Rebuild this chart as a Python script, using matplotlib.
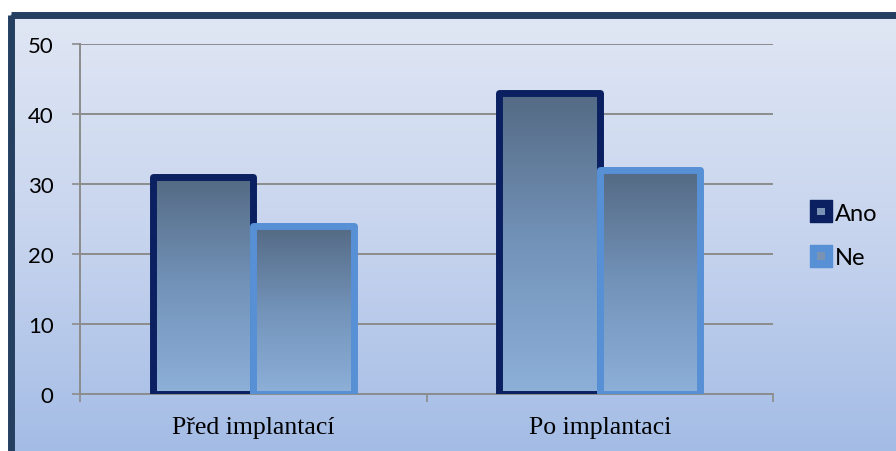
import matplotlib
matplotlib.use("Agg")
import matplotlib.pyplot as plt
import numpy as np
from matplotlib.colors import LinearSegmentedColormap
from matplotlib.patches import Rectangle, Patch
from matplotlib.legend_handler import HandlerPatch

categories = ["Před implantací", "Po implantaci"]
series_names = ["Ano", "Ne"]
ano_values = [31, 43]
ne_values = [24, 32]
y_ticks = [0, 10, 20, 30, 40, 50]

W, H, DPI = 896, 452, 100
fig = plt.figure(figsize=(W / DPI, H / DPI), dpi=DPI)
fig.patch.set_facecolor("white")

# background panel with vertical gradient and dark frame
bg = fig.add_axes([0, 0, 1, 1], zorder=0)
bg.set_xlim(0, W)
bg.set_ylim(H, 0)
bg.axis("off")
bg_cmap = LinearSegmentedColormap.from_list("bg", ["#e0e7f4", "#c7d4ee", "#a2bbe5"])
grad = np.linspace(0, 1, 256).reshape(-1, 1)
bg.imshow(grad, extent=[10, W + 10, H + 10, 15], cmap=bg_cmap, aspect="auto",
          interpolation="bicubic", zorder=0)
bg.add_patch(Rectangle((10.5, 15.5), W + 20, H + 20, facecolor="none",
                       edgecolor="#243f60", linewidth=5.0, joinstyle="round", zorder=1))

# plot area
ax = fig.add_axes([80 / W, (H - 395) / H, (773 - 80) / W, 350 / H], zorder=1)
ax.patch.set_alpha(0)

x = np.arange(len(categories))
bw = 0.29
bar_cmap = LinearSegmentedColormap.from_list("bar", ["#8db0d9", "#7393b9", "#546a84"])
edge_colors = ["#0a2060", "#5890d6"]

for i, (vals, ec, name) in enumerate(zip([ano_values, ne_values], edge_colors, series_names)):
    offs = (-0.5 + i) * bw
    bars = ax.bar(x + offs, vals, width=bw, facecolor="none", edgecolor=ec,
                  linewidth=5.0, joinstyle="round", zorder=3 + i, label=name)
    for rect in bars:
        x0 = rect.get_x()
        h = rect.get_height()
        im = ax.imshow(grad, extent=[x0, x0 + bw, 0, h], cmap=bar_cmap, origin="lower",
                       aspect="auto", interpolation="bicubic", zorder=2.5 + i)
        im.set_clip_path(rect)

ax.set_xlim(-0.5, 1.5)
ax.set_ylim(0, 50)
ax.set_yticks(y_ticks)
ax.set_yticklabels([str(v) for v in y_ticks], fontsize=16, family="Lato")
ax.yaxis.grid(True, color="#8c8c8c", linewidth=1.4, zorder=1)
ax.set_axisbelow(True)

ax.set_xticks([-0.5, 0.5, 1.5])
ax.set_xticklabels([])
ax.set_xticks(x, minor=True)
ax.set_xticklabels(categories, minor=True, fontsize=18.5, family="Liberation Serif")
ax.tick_params(axis="x", which="minor", length=0, pad=16)
ax.tick_params(axis="x", which="major", length=6, color="#8c8c8c", width=1.2)
ax.tick_params(axis="y", length=6, color="#8c8c8c", width=1.2, pad=13)

for s in ["top", "right"]:
    ax.spines[s].set_visible(False)
for s in ["left", "bottom"]:
    ax.spines[s].set_color("#8c8c8c")
    ax.spines[s].set_linewidth(1.4)


class SquareHandler(HandlerPatch):
    def create_artists(self, legend, orig_handle, xdescent, ydescent, width, height,
                       fontsize, trans):
        s = height * 1.33
        cx = -xdescent + width - s
        cy = -ydescent + (height - s) / 2
        outer = Rectangle((cx, cy), s, s, facecolor=orig_handle.get_edgecolor(),
                          edgecolor=orig_handle.get_edgecolor(), linewidth=1.0,
                          joinstyle="round", transform=trans)
        inner = Rectangle((cx + s * 0.33, cy + s * 0.33), s * 0.34, s * 0.34,
                          facecolor="#7a93b3", edgecolor="none", transform=trans)
        return [outer, inner]


handles = [Patch(facecolor="#7a93b3", edgecolor=c, label=n) for c, n in zip(edge_colors, series_names)]
fig.legend(handles=handles, labels=series_names, loc="center left",
           bbox_to_anchor=(787 / W, 1 - 236.5 / H), frameon=False,
           prop={"family": "Lato", "size": 17}, handler_map={Patch: SquareHandler()},
           handlelength=1.0, handleheight=0.7, handletextpad=0.12, labelspacing=1.0)

fig.savefig("out.png", dpi=DPI)
